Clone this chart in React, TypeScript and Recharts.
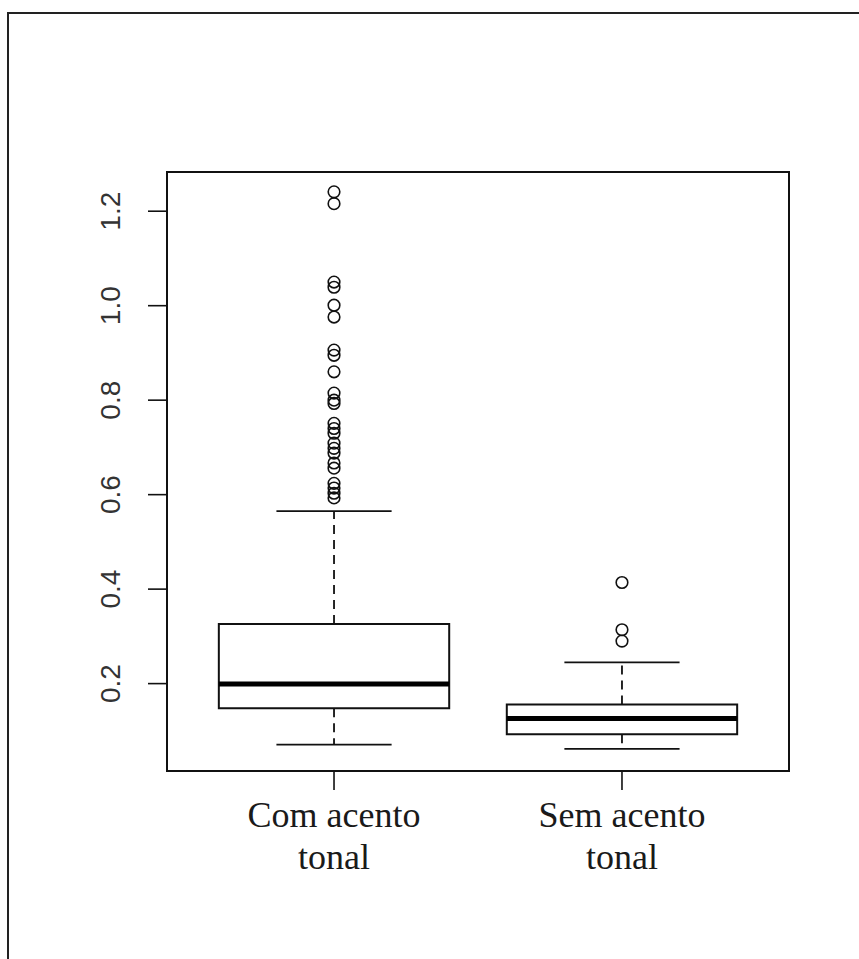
import { ComposedChart, XAxis, YAxis, Scatter, ReferenceArea, ReferenceLine } from "recharts";

// box statistics per group
const groupLabels = [
  ["Com acento", "tonal"],
  ["Sem acento", "tonal"],
];
const groupPos = [1, 2];
const q1 = [0.148, 0.093];
const medians = [0.199, 0.126];
const q3 = [0.326, 0.156];
const whiskerLow = [0.071, 0.062];
const whiskerHigh = [0.565, 0.245];

const outliersCom = [
  1.241, 1.216, 1.05, 1.039, 1.001, 0.976, 0.906, 0.895, 0.86, 0.815, 0.8, 0.793,
  0.751, 0.74, 0.73, 0.709, 0.698, 0.688, 0.667, 0.656, 0.624, 0.614, 0.603, 0.593,
];
const outliersSem = [0.414, 0.314, 0.29];

const yTicks = [0.2, 0.4, 0.6, 0.8, 1.0, 1.2];
const xDomain = [0.42, 2.58];
const yDomain = [0.015, 1.283];

const INK = "#111";
const BOX_HALF = 0.4;
const CAP_HALF = 0.2;

const comPoints = outliersCom.map((v) => ({ x: groupPos[0], y: v }));
const semPoints = outliersSem.map((v) => ({ x: groupPos[1], y: v }));

const OpenCircle = (props: any) => (
  <circle cx={props.cx} cy={props.cy} r={5.8} fill="none" stroke={INK} strokeWidth={1.6} />
);

const YTick = ({ x, y, payload }: any) => {
  const bx = x - 28;
  return (
    <text
      x={bx}
      y={y}
      transform={`rotate(-90 ${bx} ${y})`}
      textAnchor="middle"
      fontFamily="'Liberation Sans', Arial, sans-serif"
      fontSize={28}
      fill="#333"
    >
      {payload.value.toFixed(1)}
    </text>
  );
};

const XTick = ({ x, y, payload }: any) => {
  const idx = groupPos.indexOf(payload.value);
  const lines = groupLabels[idx] || [];
  return (
    <text
      x={x}
      y={y + 37}
      textAnchor="middle"
      fontFamily="'Liberation Serif', 'Times New Roman', serif"
      fontSize={36}
      fill="#1a1a1a"
    >
      {lines.map((t, i) => (
        <tspan key={i} x={x} dy={i === 0 ? 0 : 42}>
          {t}
        </tspan>
      ))}
    </text>
  );
};

export default function App() {
  return (
    <div style={{ position: "absolute", left: 0, top: 0, width: 859, height: 959, background: "#fff", overflow: "hidden" }}>
      <div
        style={{
          position: "absolute",
          left: 7,
          top: 12,
          width: 900,
          height: 1000,
          borderLeft: "2px solid #222",
          borderTop: "2px solid #222",
        }}
      />
      <ComposedChart
        width={859}
        height={959}
        margin={{ top: 172, right: 70, bottom: 0, left: 0 }}
        style={{ position: "absolute", left: 0, top: 0 }}
      >
        <XAxis
          type="number"
          dataKey="x"
          domain={xDomain}
          ticks={groupPos}
          allowDataOverflow
          height={188}
          tickSize={19}
          tickMargin={0}
          axisLine={false}
          tickLine={{ stroke: INK, strokeWidth: 1.6 }}
          tick={<XTick />}
        />
        <YAxis
          type="number"
          dataKey="y"
          domain={yDomain}
          ticks={yTicks}
          allowDataOverflow
          width={167}
          tickSize={19}
          tickMargin={0}
          axisLine={false}
          tickLine={{ stroke: INK, strokeWidth: 1.6 }}
          tick={<YTick />}
        />

        {/* plot frame */}
        <ReferenceArea
          x1={xDomain[0]}
          x2={xDomain[1]}
          y1={yDomain[0]}
          y2={yDomain[1]}
          ifOverflow="visible"
          fill="none"
          stroke={INK}
          strokeWidth={2}
        />

        {groupPos.map((p, i) => [
          // dashed whiskers
          <ReferenceLine
            key={`wu${i}`}
            segment={[{ x: p, y: q3[i] }, { x: p, y: whiskerHigh[i] }]}
            stroke={INK}
            strokeWidth={1.8}
            strokeDasharray="9 6"
            ifOverflow="visible"
          />,
          <ReferenceLine
            key={`wl${i}`}
            segment={[{ x: p, y: q1[i] }, { x: p, y: whiskerLow[i] }]}
            stroke={INK}
            strokeWidth={1.8}
            strokeDasharray="9 6"
            ifOverflow="visible"
          />,
          // whisker caps
          <ReferenceLine
            key={`cu${i}`}
            segment={[{ x: p - CAP_HALF, y: whiskerHigh[i] }, { x: p + CAP_HALF, y: whiskerHigh[i] }]}
            stroke={INK}
            strokeWidth={1.8}
            ifOverflow="visible"
          />,
          <ReferenceLine
            key={`cl${i}`}
            segment={[{ x: p - CAP_HALF, y: whiskerLow[i] }, { x: p + CAP_HALF, y: whiskerLow[i] }]}
            stroke={INK}
            strokeWidth={1.8}
            ifOverflow="visible"
          />,
          // box
          <ReferenceArea
            key={`b${i}`}
            x1={p - BOX_HALF}
            x2={p + BOX_HALF}
            y1={q1[i]}
            y2={q3[i]}
            fill="#fff"
            fillOpacity={1}
            stroke={INK}
            strokeWidth={2}
            ifOverflow="visible"
          />,
          // median
          <ReferenceLine
            key={`m${i}`}
            segment={[{ x: p - BOX_HALF, y: medians[i] }, { x: p + BOX_HALF, y: medians[i] }]}
            stroke="#000"
            strokeWidth={5}
            ifOverflow="visible"
          />,
        ])}

        <Scatter data={comPoints} dataKey="y" shape={<OpenCircle />} isAnimationActive={false} />
        <Scatter data={semPoints} dataKey="y" shape={<OpenCircle />} isAnimationActive={false} />
      </ComposedChart>
    </div>
  );
}
